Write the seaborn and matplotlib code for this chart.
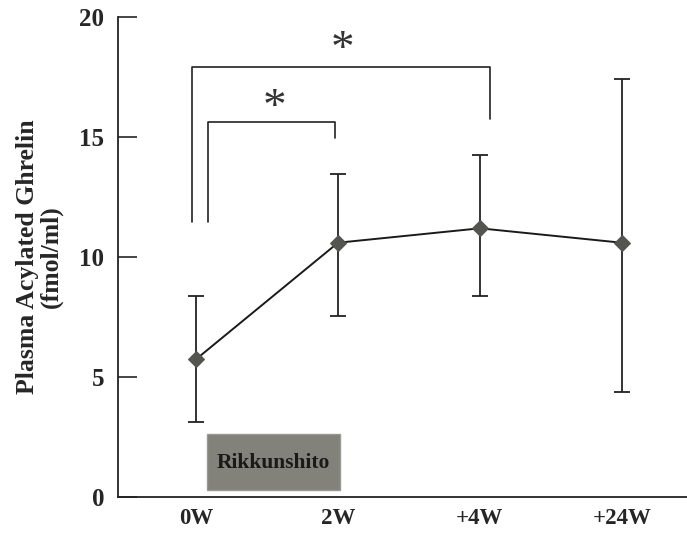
import pandas as pd
import seaborn as sns
import matplotlib.pyplot as plt
from matplotlib.patches import Rectangle

# Data
weeks = ['0W', '2W', '+4W', '+24W']
ghrelin_mean = [5.75, 10.6, 11.2, 10.6]
ghrelin_upper = [8.4, 13.45, 14.25, 17.4]
ghrelin_lower = [3.15, 7.55, 8.4, 4.4]

df = pd.DataFrame({'week': weeks, 'pos': range(len(weeks)), 'mean': ghrelin_mean,
                   'upper': ghrelin_upper, 'lower': ghrelin_lower})

sns.set_style('white')
plt.rcParams['font.family'] = ['Liberation Serif', 'DejaVu Serif']
plt.rcParams['font.weight'] = 'bold'

fig = plt.figure(figsize=(6.87, 5.34), dpi=100)
ax = fig.add_axes([0.172, 0.069, 0.828, 0.899])

# error bars
ax.errorbar(df['pos'], df['mean'],
            yerr=[df['mean'] - df['lower'], df['upper'] - df['mean']],
            fmt='none', ecolor='#222222', elinewidth=1.3, capsize=6, capthick=1.3, zorder=2)

# line with diamond markers
sns.lineplot(data=df, x='pos', y='mean', ax=ax, color='#1a1a1a', linewidth=1.4,
             marker='D', markersize=8, markerfacecolor='#555550', markeredgecolor='#555550',
             zorder=3)

# significance brackets
def bracket(x0, x1, y_left, y_right, y_top, star_x, star_y):
    ax.plot([x0, x0, x1, x1], [y_left, y_top, y_top, y_right], color='#222222', lw=1.2)
    ax.text(star_x, star_y, '*', ha='center', va='center', fontsize=34,
            fontweight='normal', color='#333333')

bracket(-0.03, 2.07, 11.45, 15.75, 17.9, 1.03, 18.6)
bracket(0.085, 0.98, 11.45, 14.95, 15.65, 0.55, 16.2)

# treatment box
ax.add_patch(Rectangle((0.077, 0.3), 0.935, 2.35, facecolor='#82827a',
                       edgecolor='#9a9a92', zorder=1))
ax.text(0.545, 1.42, 'Rikkunshito', ha='center', va='center', fontsize=15.5,
        fontweight='bold', color='#1a1a1a')

ax.set_xlim(-0.55, 3.46)
ax.set_ylim(0, 20)
ax.set_xticks(df['pos'])
ax.set_xticklabels(weeks, fontsize=16.5, fontweight='bold')
ax.set_yticks([0, 5, 10, 15, 20])
ax.set_yticklabels(['0', '5', '10', '15', '20'], fontsize=18, fontweight='bold')
ax.tick_params(axis='y', direction='in', length=14, width=1.2, pad=10, left=True)
ax.tick_params(axis='x', length=0, pad=8)
ax.set_xlabel('')
ax.set_ylabel('Plasma Acylated Ghrelin\n(fmol/ml)', fontsize=18.5, fontweight='bold',
              labelpad=12, linespacing=1.0)

sns.despine(ax=ax)
for side in ['left', 'bottom']:
    ax.spines[side].set_color('#222222')
    ax.spines[side].set_linewidth(1.3)

fig.savefig('out.png', dpi=100)
